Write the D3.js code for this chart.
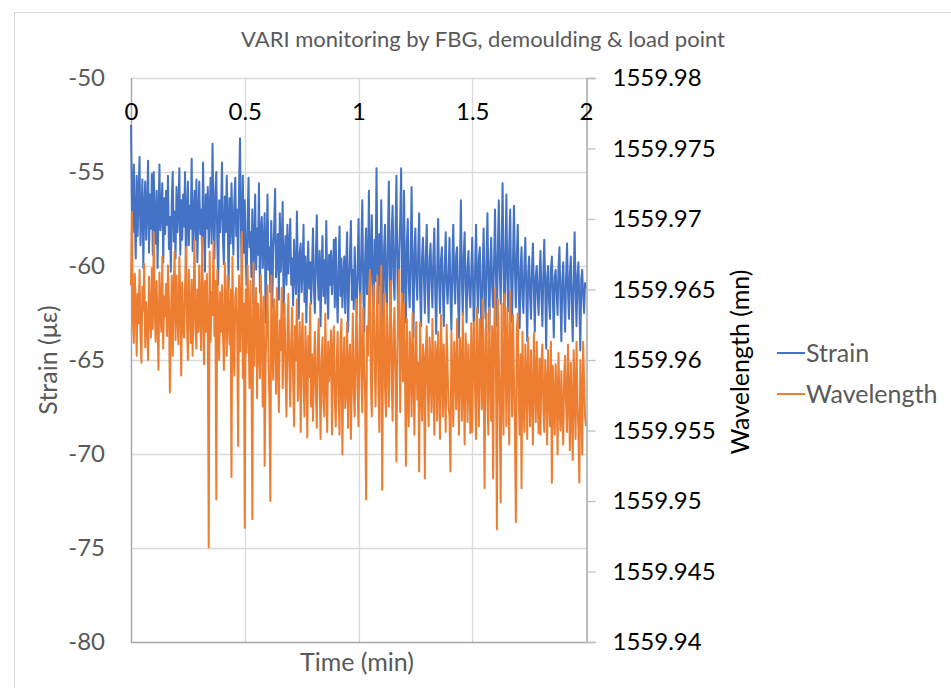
<!DOCTYPE html>
<html><head><meta charset="utf-8">
<script src="https://cdn.jsdelivr.net/npm/d3@7"></script>
<style>body{margin:0;background:#fff;}svg{display:block;}</style>
</head><body>
<svg id="chart" width="951" height="688"></svg>
<script>
const chartTitle = "VARI monitoring by FBG, demoulding & load point";
const seriesNames = ["Strain", "Wavelength"];
const timeTicks = [0, 0.5, 1, 1.5, 2];
const timeTickLabels = ["0", "0.5", "1", "1.5", "2"];
const strainTicks = [-80, -75, -70, -65, -60, -55, -50];
const strainTickLabels = ["-80", "-75", "-70", "-65", "-60", "-55", "-50"];
const wavelengthTicks = [1559.94, 1559.945, 1559.95, 1559.955, 1559.96, 1559.965, 1559.97, 1559.975, 1559.98];
const wavelengthTickLabels = ["1559.94", "1559.945", "1559.95", "1559.955", "1559.96", "1559.965", "1559.97", "1559.975", "1559.98"];
const timeMax = 2;

const strain = [
-52.5,-56.8,-58.2,-54.6,-57.5,-59.6,-55.2,-58.4,-56.1,-54.2,-58.9,-57.2,-55.4,-60.1,-56.8,-55.5,-58.6,-57,-54.4,-59.3,-56.2,-58,-55.1,-59.4,
-55,-57.6,-58.8,-56,-60.1,-57.3,-54.6,-58.1,-57,-55.6,-59.8,-56.4,-58.3,-56,-57.8,-55.2,-59.1,-57.4,-60.3,-56.6,-55,-58.7,-57.1,-59.6,
-55.8,-58.2,-57,-54.8,-59.4,-56.5,-58.6,-56.2,-57.9,-55,-60.4,-57.2,-55.5,-58.9,-56.8,-58,-54.3,-59.2,-57.5,-56,-58.6,-55.4,-59.8,-57.3,
-55.5,-58.3,-57,-59.2,-54.5,-57.6,-60.3,-56.2,-58,-55.8,-59,-57.1,-55.3,-58.8,-53.5,-57.4,-59.6,-56,-55,-58.6,-61,-56.5,-58.2,-57,
-54.5,-58.6,-59.9,-56.3,-58.2,-55.2,-57.5,-61.2,-56.4,-58.8,-55.6,-57.8,-59.4,-56.6,-55.3,-58.4,-57,-60.2,-55.8,-53.2,-58,-60.5,-55.2,-59.3,
-56.5,-59.6,-61,-57.6,-55.3,-59,-58.2,-60.6,-57,-62,-58.6,-56.2,-60.2,-58,-59.4,-55.6,-61.4,-58.2,-57.4,-60.1,-58.8,-57.2,-63,-59,
-56.2,-60.2,-59,-61.4,-57.6,-62.2,-59.2,-58,-55.9,-60.6,-59.4,-58.3,-61.8,-57.2,-60.3,-58.9,-56.6,-62.5,-59.6,-58.4,-61,-57.8,-60.4,-59.2,
-57.5,-61,-59.6,-62.1,-58.6,-60.4,-61.5,-57.1,-60,-62.8,-59.3,-58.8,-61.4,-60.2,-57.8,-61.9,-59.5,-63,-60.4,-58.7,-61.2,-59.8,-62,-60,
-58,-61.3,-62.5,-59.5,-57.3,-60.6,-61.8,-59.2,-63.2,-60.1,-58.4,-61.6,-59.7,-62,-57.6,-60.8,-62.8,-59.4,-61,-59.2,-61.5,-60.3,-58.6,-62.2,
-58.5,-61.2,-63,-60.2,-57.9,-61.6,-59.6,-62.2,-60.6,-59.5,-62.5,-60,-58.2,-63.5,-61,-59.4,-57.6,-61.8,-60.2,-62.3,-59,-61.1,-62.6,-60.4,
-57.5,-60.6,-62,-59.1,-56.5,-61.2,-63.5,-59.6,-58,-61.5,-60.2,-56,-62.8,-59.8,-57.3,-60.6,-64.2,-58.6,-60.8,-54.8,-59.8,-62,-58.3,-61,
-56.5,-60.2,-64.4,-59,-57.8,-61.2,-62.2,-58.6,-55.5,-60.4,-63,-58.2,-56.8,-60.6,-61.8,-58.4,-55.2,-60,-63.5,-59.2,-57.6,-54.8,-61.4,-62.5,
-56,-60.2,-63,-58.8,-57.5,-61,-62.2,-59.6,-55.8,-60.5,-63.8,-59.2,-58,-60.8,-61.8,-59.2,-57.2,-61.4,-63.2,-59.6,-58.5,-60.6,-62.5,-59.4,
-57.8,-61.2,-63,-59.6,-58.8,-60.9,-62.2,-59.4,-58,-61.5,-63.6,-60.2,-57.5,-60.8,-62.5,-59.7,-59,-61.3,-63.2,-60,-58.2,-61,-62,-60.4,
-58.5,-61.5,-63.4,-60,-57.8,-60.8,-62,-59.4,-59,-61.6,-63.8,-60.2,-56.5,-60.6,-62.6,-59.5,-58.2,-61.2,-63,-60.1,-59.2,-61.4,-62.2,-60.3,
-58.5,-61.4,-63.5,-60.2,-57.8,-60.8,-62.5,-59.6,-59,-61.8,-64.6,-60.4,-58,-61.2,-62.8,-59.9,-57.2,-60.6,-63.5,-60,-58.5,-61.1,-62.2,-59.8,
-57,-60.4,-63.2,-59.2,-56.5,-60.2,-62,-58.8,-55.6,-60,-63.5,-59.4,-56.2,-60.6,-62.4,-59,-57,-60.8,-63,-59.6,-56.8,-60.2,-62.2,-59.4,
-57.8,-61.2,-63.3,-60.2,-59,-61.6,-62.5,-60,-58.5,-61.4,-64,-60.4,-59.5,-61.6,-62.8,-60.2,-58.8,-61.2,-63.5,-60.6,-60,-61.5,-62.6,-60.4,
-59.2,-61.6,-63.2,-60.4,-58.6,-61.2,-64.4,-60.6,-60,-61.8,-62.8,-60.2,-59.5,-61.5,-63.8,-60.6,-60.2,-61.4,-62.6,-60.1,-59,-61.7,-64,-60.8,
-59.8,-61.8,-63.5,-60.6,-58.8,-61.3,-62.8,-60.4,-59.5,-61.9,-64,-60.8,-58.2,-61.2,-63.2,-60.5,-59.8,-62,-64.5,-60.7,-60.2,-61.6,-62.5,-60.9,-61.2
];

const wavelength = [
1559.9653,1559.9705,1559.9628,1559.9612,1559.9661,1559.9640,1559.9603,1559.9647,1559.9626,1559.9664,1559.9618,1559.9598,1559.9652,1559.9635,1559.9668,1559.9609,1559.9641,1559.9627,1559.9600,1559.9659,1559.9633,1559.9616,1559.9665,1559.9622,
1559.9691,1559.9640,1559.9613,1559.9656,1559.9628,1559.9593,1559.9662,1559.9637,1559.9620,1559.9673,1559.9608,1559.9645,1559.9631,1559.9654,1559.9617,1559.9667,1559.9642,1559.9577,1559.9625,1559.9660,1559.9603,1559.9648,1559.9677,1559.9614,
1559.9660,1559.9632,1559.9611,1559.9673,1559.9645,1559.9589,1559.9655,1559.9624,1559.9616,1559.9651,1559.9680,1559.9628,1559.9600,1559.9664,1559.9637,1559.9612,1559.9657,1559.9603,1559.9641,1559.9685,1559.9622,1559.9608,1559.9650,1559.9620,
1559.9667,1559.9630,1559.9607,1559.9687,1559.9642,1559.9597,1559.9656,1559.9620,1559.9661,1559.9627,1559.9467,1559.9677,1559.9613,1559.9648,1559.9632,1559.9684,1559.9617,1559.9656,1559.9501,1559.9664,1559.9629,1559.9600,1559.9648,1559.9620,
1559.9653,1559.9620,1559.9593,1559.9669,1559.9636,1559.9603,1559.9660,1559.9628,1559.9611,1559.9650,1559.9517,1559.9673,1559.9618,1559.9589,1559.9645,1559.9651,1559.9624,1559.9539,1559.9660,1559.9606,1559.9632,1559.9691,1559.9587,1559.9640,
1559.9481,1559.9650,1559.9605,1559.9667,1559.9626,1559.9580,1559.9656,1559.9611,1559.9487,1559.9669,1559.9596,1559.9632,1559.9651,1559.9573,1559.9640,1559.9612,1559.9587,1559.9660,1559.9620,1559.9567,1559.9645,1559.9525,1559.9598,1559.9630,
1559.9653,1559.9604,1559.9573,1559.9500,1559.9660,1559.9618,1559.9586,1559.9643,1559.9624,1559.9576,1559.9651,1559.9595,1559.9563,1559.9628,1559.9607,1559.9651,1559.9580,1559.9622,1559.9640,1559.9590,1559.9560,1559.9616,1559.9647,1559.9598,
1559.9567,1559.9612,1559.9637,1559.9589,1559.9553,1559.9624,1559.9600,1559.9643,1559.9571,1559.9596,1559.9627,1559.9549,1559.9610,1559.9633,1559.9583,1559.9560,1559.9624,1559.9598,1559.9545,1559.9617,1559.9588,1559.9640,1559.9567,1559.9604,
1559.9557,1559.9596,1559.9620,1559.9578,1559.9552,1559.9609,1559.9629,1559.9585,1559.9544,1559.9600,1559.9616,1559.9569,1559.9560,1559.9633,1559.9591,1559.9549,1559.9613,1559.9585,1559.9598,1559.9621,1559.9547,1559.9606,1559.9624,1559.9572,
1559.9553,1559.9598,1559.9620,1559.9574,1559.9547,1559.9612,1559.9629,1559.9533,1559.9594,1559.9616,1559.9566,1559.9580,1559.9627,1559.9552,1559.9596,1559.9611,1559.9544,1559.9590,1559.9633,1559.9576,1559.9560,1559.9610,1559.9643,1559.9580,
1559.9553,1559.9612,1559.9647,1559.9590,1559.9563,1559.9637,1559.9598,1559.9575,1559.9501,1559.9624,1559.9603,1559.9645,1559.9664,1559.9586,1559.9560,1559.9633,1559.9653,1559.9600,1559.9567,1559.9622,1559.9660,1559.9581,1559.9549,1559.9643,
1559.9667,1559.9508,1559.9612,1559.9647,1559.9580,1559.9560,1559.9640,1559.9598,1559.9567,1559.9626,1559.9656,1559.9583,1559.9557,1559.9620,1559.9637,1559.9590,1559.9528,1559.9605,1559.9645,1559.9664,1559.9563,1559.9610,1559.9647,1559.9585,
1559.9640,1559.9596,1559.9525,1559.9629,1559.9575,1559.9553,1559.9620,1559.9603,1559.9560,1559.9633,1559.9588,1559.9547,1559.9613,1559.9627,1559.9572,1559.9598,1559.9521,1559.9627,1559.9582,1559.9557,1559.9611,1559.9600,1559.9516,1559.9606,
1559.9624,1559.9581,1559.9553,1559.9616,1559.9596,1559.9563,1559.9629,1559.9586,1559.9547,1559.9613,1559.9603,1559.9557,1559.9620,1559.9590,1559.9544,1559.9632,1559.9598,1559.9560,1559.9611,1559.9581,1559.9549,1559.9625,1559.9594,1559.9567,
1559.9560,1559.9521,1559.9620,1559.9588,1559.9553,1559.9613,1559.9596,1559.9565,1559.9629,1559.9583,1559.9547,1559.9616,1559.9600,1559.9557,1559.9633,1559.9581,1559.9540,1559.9619,1559.9597,1559.9556,1559.9611,1559.9585,1559.9548,1559.9626,
1559.9549,1559.9604,1559.9627,1559.9578,1559.9544,1559.9637,1559.9596,1559.9553,1559.9629,1559.9600,1559.9565,1559.9643,1559.9588,1559.9509,1559.9618,1559.9633,1559.9572,1559.9547,1559.9637,1559.9590,1559.9557,1559.9624,1559.9516,1559.9612,
1559.9651,1559.9597,1559.9480,1559.9643,1559.9604,1559.9563,1559.9499,1559.9640,1559.9585,1559.9547,1559.9647,1559.9612,1559.9553,1559.9637,1559.9594,1559.9540,1559.9649,1559.9605,1559.9560,1559.9632,1559.9588,1559.9553,1559.9485,1559.9620,
1559.9633,1559.9578,1559.9547,1559.9604,1559.9509,1559.9620,1559.9572,1559.9549,1559.9611,1559.9589,1559.9544,1559.9616,1559.9583,1559.9553,1559.9607,1559.9571,1559.9540,1559.9619,1559.9586,1559.9556,1559.9613,1559.9575,1559.9548,1559.9601,
1559.9547,1559.9598,1559.9611,1559.9566,1559.9549,1559.9600,1559.9583,1559.9540,1559.9607,1559.9575,1559.9553,1559.9613,1559.9513,1559.9596,1559.9571,1559.9547,1559.9597,1559.9580,1559.9533,1559.9605,1559.9568,1559.9550,1559.9592,1559.9560,
1559.9540,1559.9590,1559.9603,1559.9568,1559.9549,1559.9611,1559.9577,1559.9536,1559.9598,1559.9565,1559.9529,1559.9607,1559.9580,1559.9544,1559.9613,1559.9570,1559.9550,1559.9513,1559.9600,1559.9575,1559.9533,1559.9613,1559.9585,1559.9560,1559.9553
];

const colors = ["#4472C4", "#ED7D31"];
const font = "Lato, 'Open Sans', sans-serif";

const svg = d3.select("#chart");
const L = 131, R = 586, T = 78, B = 642;

// outer chart border
svg.append("rect").attr("x", 14.5).attr("y", 12.5).attr("width", 1000).attr("height", 1000)
  .attr("fill", "#fff").attr("stroke", "#D9D9D9");

const x = d3.scaleLinear().domain([0, timeMax]).range([L, R]);
const yL = d3.scaleLinear().domain([-80, -50]).range([B, T]);
const yR = d3.scaleLinear().domain([1559.94, 1559.98]).range([B, T]);

// gridlines
const grid = svg.append("g");
grid.selectAll("line.h").data(strainTicks.filter(d => d > -80)).enter().append("line")
  .attr("x1", L).attr("x2", R).attr("y1", d => Math.round(yL(d)) + 0.5).attr("y2", d => Math.round(yL(d)) + 0.5)
  .attr("stroke", "#D9D9D9").attr("stroke-width", 1.3);
grid.selectAll("line.v").data(timeTicks.filter(d => d > 0 && d < timeMax)).enter().append("line")
  .attr("y1", T).attr("y2", B).attr("x1", d => Math.round(x(d)) + 0.5).attr("x2", d => Math.round(x(d)) + 0.5)
  .attr("stroke", "#D9D9D9").attr("stroke-width", 1.3);

// axis lines
svg.append("line").attr("x1", L + 0.5).attr("x2", L + 0.5).attr("y1", T).attr("y2", B + 0.5).attr("stroke", "#A6A6A6").attr("stroke-width", 1.5);
svg.append("line").attr("x1", L).attr("x2", R).attr("y1", B + 0.5).attr("y2", B + 0.5).attr("stroke", "#A6A6A6").attr("stroke-width", 1.5);

// series
const time = strain.map((d, i) => i * timeMax / (strain.length - 1));
const timeW = wavelength.map((d, i) => i * timeMax / (wavelength.length - 1));
const lineS = d3.line().x((d, i) => x(time[i])).y(d => yL(d));
const lineW = d3.line().x((d, i) => x(timeW[i])).y(d => yR(d));
svg.append("path").datum(strain).attr("d", lineS).attr("fill", "none")
  .attr("stroke", colors[0]).attr("stroke-width", 2).attr("stroke-linejoin", "round");
svg.append("path").datum(wavelength).attr("d", lineW).attr("fill", "none")
  .attr("stroke", colors[1]).attr("stroke-width", 2).attr("stroke-linejoin", "round");

// right axis
const rAxis = d3.axisRight(yR).tickValues(wavelengthTicks).tickSize(9).tickPadding(17)
  .tickFormat((d, i) => wavelengthTickLabels[i]);
const gR = svg.append("g").attr("transform", `translate(${R + 0.5},0)`).call(rAxis);
gR.select(".domain").attr("stroke", "#A6A6A6").attr("stroke-width", 1.5);
gR.selectAll(".tick line").attr("stroke", "#BFBFBF").attr("stroke-width", 1.3);
gR.selectAll(".tick text").attr("fill", "#000").style("font-family", font).style("font-size", "24px");

// left axis labels
const lAxis = d3.axisLeft(yL).tickValues(strainTicks).tickSize(0).tickPadding(26)
  .tickFormat((d, i) => strainTickLabels[i]);
const gL = svg.append("g").attr("transform", `translate(${L},0)`).call(lAxis);
gL.select(".domain").remove();
gL.selectAll(".tick text").attr("fill", "#595959").style("font-family", font).style("font-size", "24px");

// top x axis labels (below top line)
const xAxis = d3.axisBottom(x).tickValues(timeTicks).tickSize(0).tickPadding(25)
  .tickFormat((d, i) => timeTickLabels[i]);
const gX = svg.append("g").attr("transform", `translate(0,${T})`).call(xAxis);
gX.select(".domain").remove();
gX.selectAll(".tick text").attr("fill", "#000").style("font-family", font).style("font-size", "24px");

// title
svg.append("text").attr("x", 483).attr("y", 47).attr("text-anchor", "middle")
  .attr("fill", "#595959").style("font-family", font).style("font-size", "22px").text(chartTitle);

// axis titles
svg.append("text").attr("x", 357).attr("y", 671).attr("text-anchor", "middle")
  .attr("fill", "#595959").style("font-family", font).style("font-size", "25px").text("Time (min)");
svg.append("text").attr("transform", "translate(57,360) rotate(-90)").attr("text-anchor", "middle")
  .attr("fill", "#595959").style("font-family", font).style("font-size", "25px").text("Strain (με)");
svg.append("text").attr("transform", "translate(749,362) rotate(-90)").attr("text-anchor", "middle")
  .attr("fill", "#000").style("font-family", font).style("font-size", "25px").text("Wavelength (mn)");

// legend
const leg = svg.append("g");
seriesNames.forEach((name, i) => {
  const yy = 353 + i * 41;
  leg.append("line").attr("x1", 777).attr("x2", 805).attr("y1", yy).attr("y2", yy)
    .attr("stroke", colors[i]).attr("stroke-width", 2);
  leg.append("text").attr("x", 806).attr("y", yy + 9).attr("fill", "#595959")
    .style("font-family", font).style("font-size", "25px").text(name);
});
</script>
</body></html>
